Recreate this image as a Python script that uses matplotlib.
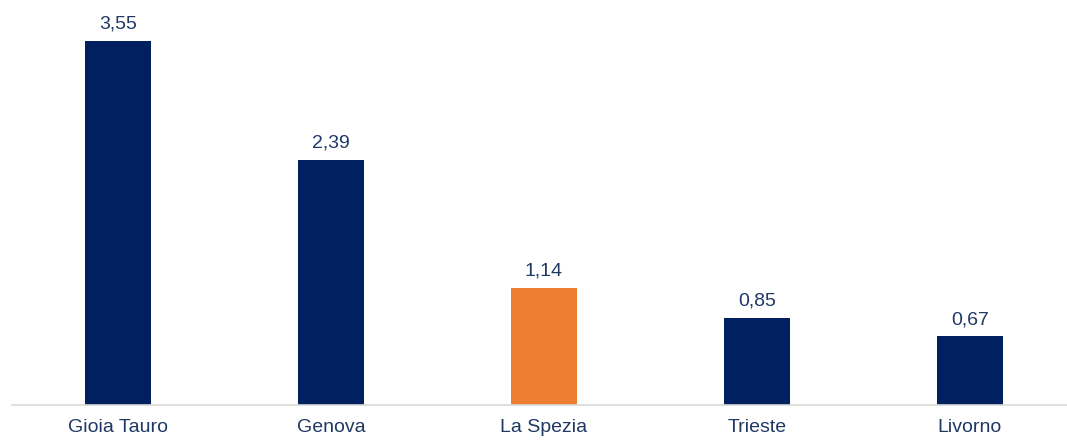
import matplotlib.pyplot as plt

ports = ['Gioia Tauro', 'Genova', 'La Spezia', 'Trieste', 'Livorno']
values = [3.55, 2.39, 1.14, 0.85, 0.67]
colors = ['#002060', '#002060', '#ED7D31', '#002060', '#002060']

plt.rcParams['font.family'] = ['Liberation Sans', 'DejaVu Sans']

fig = plt.figure(figsize=(10.67, 4.45), dpi=100)
ax = fig.add_axes([11.5 / 1067, 40 / 445, 1055.5 / 1067, 405 / 445])

x = range(len(ports))
bars = ax.bar(x, values, width=0.31, color=colors)
for b, v in zip(bars, values):
    ax.text(b.get_x() + b.get_width() / 2, v + 0.08, f'{v:.2f}'.replace('.', ','),
            ha='center', va='bottom', fontsize=14, color='#1F3864')

ax.set_xlim(-0.5, -0.5 + 1055.5 / 213)
ax.set_ylim(0, 405 / 102.5)
ax.set_xticks(list(x))
ax.set_xticklabels(ports, fontsize=14, color='#1F3864')
ax.tick_params(axis='x', length=0, pad=10)
ax.set_yticks([])
for s in ['top', 'right', 'left']:
    ax.spines[s].set_visible(False)
ax.spines['bottom'].set_color('#D9D9D9')
ax.spines['bottom'].set_linewidth(1.2)

fig.savefig('out.png', dpi=100)
